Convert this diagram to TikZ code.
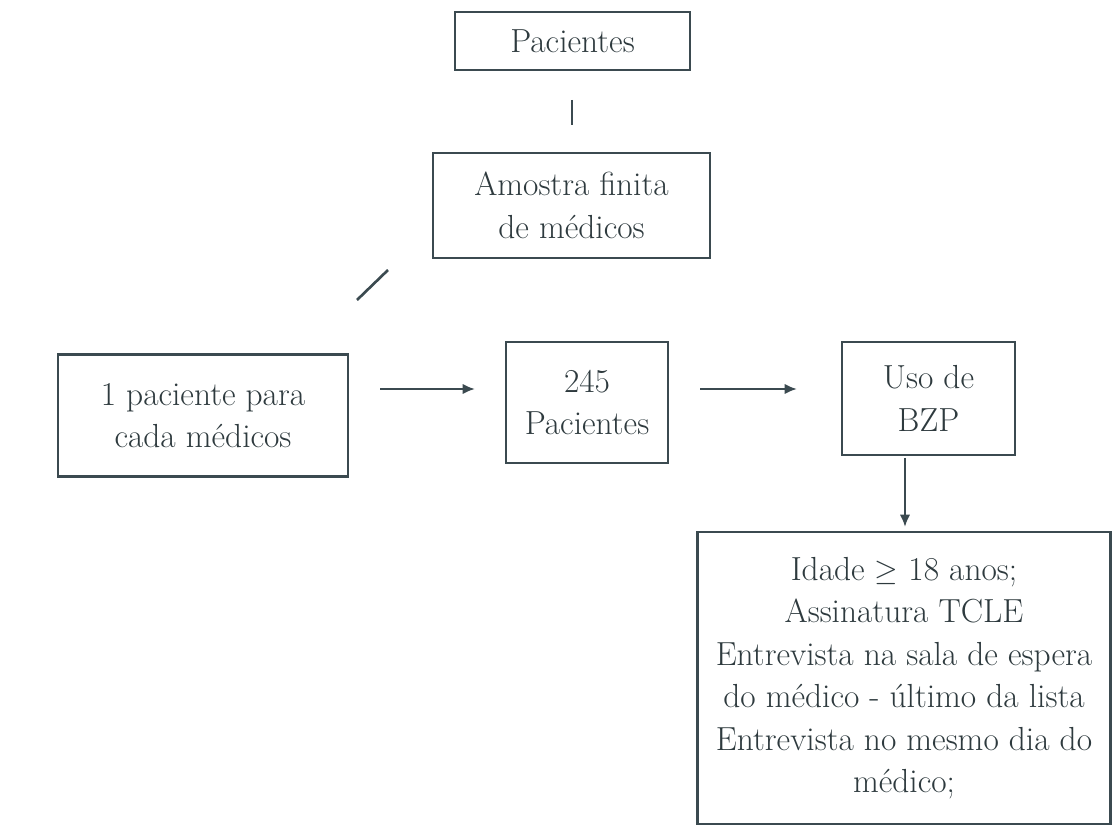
\documentclass[tikz,border=0pt]{standalone}
\usetikzlibrary{arrows.meta}
\definecolor{linec}{HTML}{3B4A50}
\definecolor{textc}{HTML}{2E3A3E}
\begin{document}
\begin{tikzpicture}[x=0.02cm,y=-0.02cm,
  box/.style={draw=linec, line width=1.5pt, inner sep=0pt, text=textc, align=center,
    font=\fontsize{19}{24.2}\selectfont},
  conn/.style={draw=linec, line width=1.5pt},
  arr/.style={conn, -{Latex[length=7pt,width=6pt]}}]
\useasboundingbox (0,0) rectangle (1117,834);
\node[box, minimum width=4.7cm, minimum height=1.16cm] (pac) at (572.5,41) {Pacientes};
\node[box, minimum width=5.54cm, minimum height=2.1cm] (amo) at (571.5,205.5) {Amostra finita\\de médicos};
\node[box, minimum width=5.8cm, minimum height=2.44cm] (um) at (203,415.5) {1 paciente para\\cada médicos};
\node[box, minimum width=3.24cm, minimum height=2.42cm] (p245) at (587,402.5) {245\\Pacientes};
\node[box, minimum width=3.46cm, minimum height=2.26cm] (bzp) at (928.5,398.5) {Uso de\\BZP};
\node[box, minimum width=8.26cm, minimum height=5.84cm] (crit) at (904,678) {Idade $\geq$ 18 anos;\\Assinatura TCLE\\Entrevista na sala de espera\\do médico - último da lista\\Entrevista no mesmo dia do\\médico;};
\coordinate (v1) at (572,100);
\coordinate (v2) at (572,125);
\coordinate (d1) at (357,300);
\coordinate (d2) at (388,270);
\coordinate (a1s) at (380,389);
\coordinate (a1e) at (475,389);
\coordinate (a2s) at (700,389);
\coordinate (a2e) at (797,389);
\coordinate (a3s) at (905,458);
\coordinate (a3e) at (905,527);
\draw[conn] (v1) -- (v2);
\draw[conn] (d1) -- (d2);
\draw[arr] (a1s) -- (a1e);
\draw[arr] (a2s) -- (a2e);
\draw[arr] (a3s) -- (a3e);
\end{tikzpicture}
\end{document}
